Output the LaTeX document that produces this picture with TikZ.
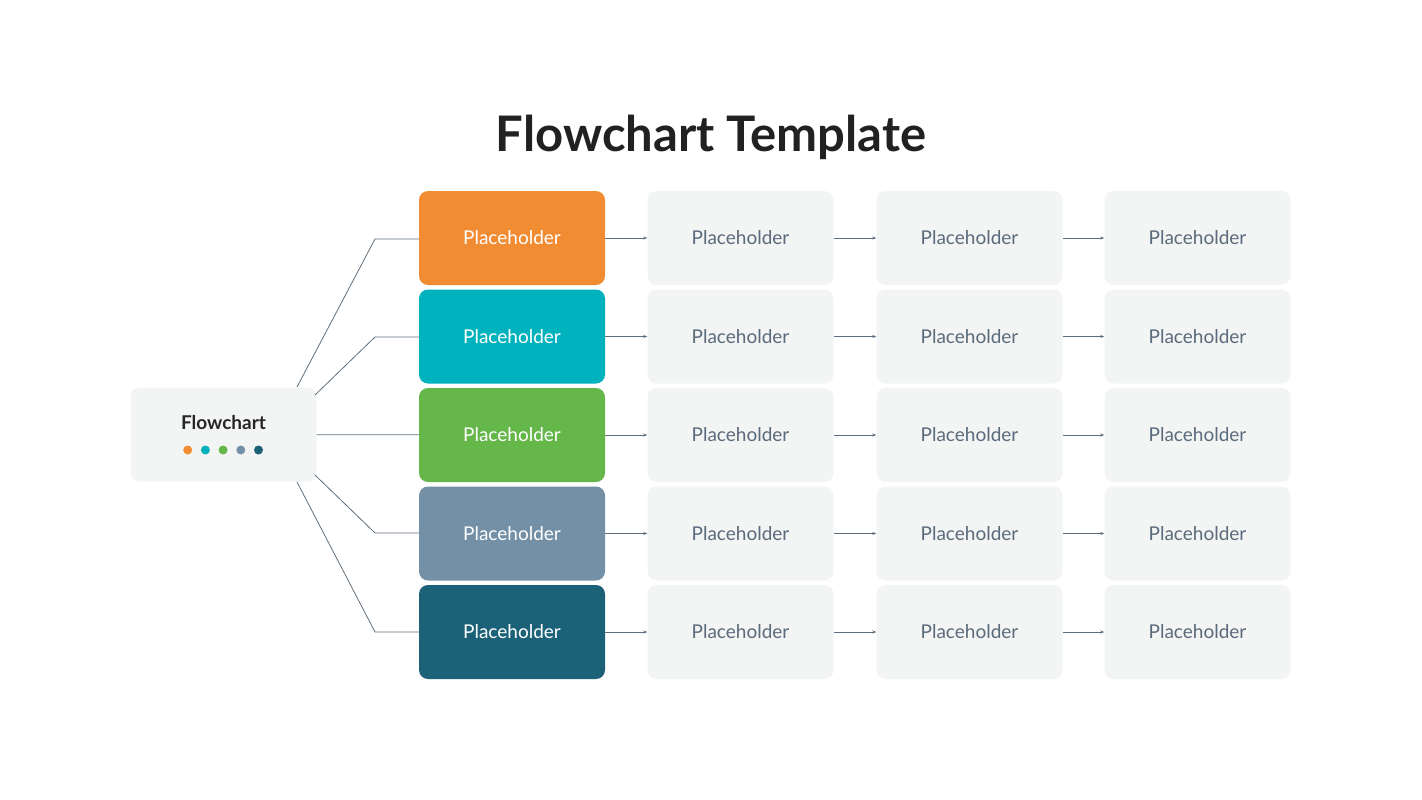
\documentclass[tikz,border=0pt]{standalone}
\usepackage{fontspec}
\setmainfont{Lato}
\usetikzlibrary{arrows.meta}
\definecolor{cOrange}{HTML}{F28C33}
\definecolor{cTeal}{HTML}{00B2BD}
\definecolor{cGreen}{HTML}{65B74A}
\definecolor{cSlate}{HTML}{7390A6}
\definecolor{cNavy}{HTML}{1B6279}
\definecolor{boxGray}{HTML}{F3F4F4}
\definecolor{lineGray}{HTML}{5E6E7E}
\definecolor{txtGray}{HTML}{5A6B7C}
\tikzset{
  box/.style={rounded corners=9pt, minimum width=186pt, minimum height=94pt, inner sep=0pt, font=\fontsize{19}{22}\selectfont},
  colbox/.style={box, fill=#1, text=white},
  graybox/.style={box, fill=boxGray, text=txtGray},
  link/.style={draw=lineGray, line width=0.8pt},
  arr/.style={link, -{Stealth[length=4pt,width=3pt]}}
}
\begin{document}
\begin{tikzpicture}[x=1pt, y=-1pt]
    \useasboundingbox (0,0) rectangle (1422,800);
    % title
    \node[font=\fontsize{49}{55}\selectfont\bfseries, text=black!87] (title) at (711,137) {Flowchart Template};

    % the start box
    \node[graybox, text=black!85] (start) at (223.5,434.5) {};
    \node[font=\fontsize{19}{22}\selectfont\bfseries, text=black!85] (startlbl) at (223.5,423) {Flowchart};
    \foreach \c [count=\k] in {cOrange,cTeal,cGreen,cSlate,cNavy}
        \fill[\c] (170+\k*17.7,450) circle (4.5pt);

    % the colored column and the three gray columns
    \foreach \c [count=\r] in {cOrange,cTeal,cGreen,cSlate,cNavy} {
        \pgfmathsetmacro{\yy}{238+(\r-1)*98.5}
        \node[colbox=\c] (c\r) at (512,\yy) {Placeholder};
        \node[graybox] (g\r1) at (740.5,\yy) {Placeholder};
        \node[graybox] (g\r2) at (969.5,\yy) {Placeholder};
        \node[graybox] (g\r3) at (1197.5,\yy) {Placeholder};
        \draw[arr] (c\r) -- (g\r1);
        \draw[arr] (g\r1) -- (g\r2);
        \draw[arr] (g\r2) -- (g\r3);
    }

    % connectors from the start box
    \coordinate (b1) at (375,239);
    \coordinate (b2) at (375,337);
    \coordinate (b4) at (375,533);
    \coordinate (b5) at (375,632);
    \draw[link] (297,387) -- (b1) -- (c1.west |- b1);
    \draw[link] (315,395) -- (b2) -- (c2.west |- b2);
    \draw[link] (start) -- (c3);
    \draw[link] (315,475) -- (b4) -- (c4.west |- b4);
    \draw[link] (297,482) -- (b5) -- (c5.west |- b5);
\end{tikzpicture}
\end{document}
